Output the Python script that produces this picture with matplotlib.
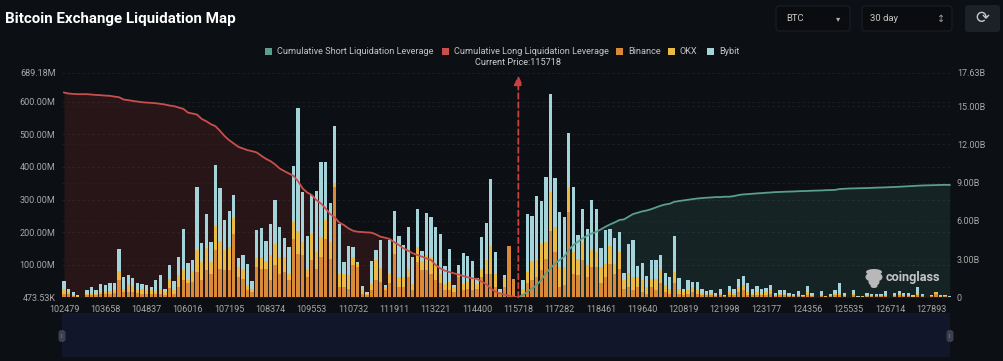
import matplotlib
matplotlib.use("Agg")
import matplotlib.pyplot as plt
from matplotlib.patches import FancyBboxPatch, Rectangle, Ellipse

plt.rcParams['font.family'] = ['Roboto', 'DejaVu Sans']

title = "Bitcoin Exchange Liquidation Map"
current_price = 115718
current_index = 99
tick_labels = ["102479","103658","104837","106016","107195","108374","109553","110732","111911","113221","114400",
               "115718","117282","118461","119640","120819","121998","123177","124356","125535","126714","127893"]
tick_step = 9
left_ticks = [0.47353, 100, 200, 300, 400, 500, 600, 689.18]
left_labels = ["473.53K","100.00M","200.00M","300.00M","400.00M","500.00M","600.00M","689.18M"]
right_ticks = [0, 3, 6, 9, 12, 15, 17.63]
right_labels = ["0","3.00B","6.00B","9.00B","12.00B","15.00B","17.63B"]

binance = [12,10,4,2,.5,7,9,7,12,10,12,15,55,17,17,17,14,12,12,12,10,12,9,30,10,33,53,43,48,78,53,83,73,144,88,83,85,195,63,58,
           22,17,93,88,88,53,99,73,78,53,180,134,129,63,114,88,124,180,119,337,33,33,27,99,94,12,7,22,53,48,22,43,134,33,33,63,22,109,83,83,
           73,53,43,22,22,17,63,22,27,22,27,63,73,73,33,12,33,157,58,0,12,43,53,63,83,119,205,139,33,38,261,73,68,114,63,93,93,43,63,104,
           73,88,27,33,22,33,17,12,33,22,43,17,12,43,12,9,12,17,12,9,6,7,4,6,3,9,7,17,22,9,7,9,7,9,12,4,7,6,4,3,5,3,8,3,1,4,2,3,6,9,4,.5,7,1,2,4,3,3,3,5,.5,4,6,4,4,2,6,3,1,3,10,2,3,1]
okx = [13,7,5,2,.5,5,6,5,5,6,8,9,26,10,20,17,8,15,10,10,7,15,8,27,12,35,32,10,33,66,56,69,36,76,86,61,69,49,30,30,
       15,10,28,36,25,76,66,51,46,20,51,71,41,25,81,51,61,56,51,15,40,40,41,25,8,10,5,20,61,41,10,30,30,30,30,25,20,46,30,46,
       51,46,30,20,25,15,10,20,20,30,15,25,41,86,40,5,30,0,0,0,15,36,59,51,81,51,117,76,61,56,78,66,51,56,36,51,46,51,41,53,
       30,51,25,41,41,30,36,20,25,36,41,20,15,36,15,8,10,15,10,5,6,7,4,6,2,8,7,15,15,8,5,8,5,8,10,3,5,6,3,3,4,2,9,3,.5,5,1,3,6,5,3,.3,5,1,1,3,3,3,3,4,.3,3,5,3,3,2,4,3,.5,2,6,2,2,1]
bybit = [24,8,8,3,1,12,16,10,25,21,24,20,67,35,31,25,22,15,16,9,35,43,10,43,28,56,124,53,33,193,58,103,61,186,160,94,112,70,28,42,
         66,23,86,88,59,97,134,93,59,83,172,376,153,99,119,188,230,178,119,172,152,37,90,31,7,14,5,69,30,88,5,102,102,124,97,127,81,116,30,130,
         124,116,122,53,102,6,25,93,81,61,18,97,114,203,65,10,5,0,0,0,27,177,139,198,130,199,302,152,168,152,164,200,73,102,112,156,132,58,104,53,
         79,61,23,91,112,33,53,33,58,58,46,38,36,109,34,10,31,15,25,11,8,10,5,15,4,17,11,25,29,27,14,18,15,13,15,6,10,10,7,4,12,4,18,9,.5,10,1,5,10,31,8,.2,11,1,1,7,6,5,5,11,.2,7,8,7,7,3,22,6,.5,4,2,2,2,1]

long_cum = [16.06,15.98,15.95,15.93,15.93,15.93,15.90,15.87,15.85,15.82,15.80,15.74,15.69,15.51,15.46,15.40,15.35,15.30,15.27,15.25,
            15.22,15.17,15.12,15.04,14.99,14.88,14.78,14.49,14.41,14.33,13.99,13.81,13.58,13.42,13.05,12.64,12.32,12.06,11.80,11.67,
            11.54,11.46,11.36,11.10,10.86,10.68,10.42,10.10,9.90,9.71,9.53,9.11,8.54,8.22,8.02,7.62,7.36,6.97,6.53,6.27,
            5.85,5.67,5.40,5.22,5.14,5.12,5.09,5.07,4.93,4.75,4.67,4.57,4.31,4.10,3.84,3.66,3.45,3.32,3.19,3.05,
            2.92,2.53,2.27,2.09,1.98,1.88,1.78,1.67,1.57,1.49,1.44,1.23,1.04,0.70,0.44,0.31,0.21,0.13,0.05,0]
short_cum = [0,0.18,0.44,0.70,0.97,1.36,1.88,2.27,2.66,2.92,3.19,3.71,4.10,4.36,4.62,4.83,5.01,5.14,5.33,5.54,5.72,5.87,6.06,6.11,6.32,
             6.53,6.63,6.74,6.81,6.92,7.05,7.18,7.28,7.34,7.49,7.55,7.60,7.65,7.70,7.75,7.78,7.81,7.83,7.86,7.86,7.89,7.89,7.94,8.02,8.07,
             8.09,8.12,8.15,8.17,8.20,8.22,8.25,8.26,8.28,8.29,8.30,8.32,8.33,8.34,8.36,8.37,8.38,8.40,8.41,8.42,8.49,8.51,8.53,8.54,8.55,
             8.56,8.57,8.58,8.60,8.61,8.62,8.64,8.65,8.67,8.69,8.71,8.73,8.75,8.77,8.78,8.79,8.80,8.81,8.82,8.81]

BG = "#0c0f14"
C_SHORT, C_LONG, C_BIN, C_OKX, C_BYB = "#5a9e8c", "#c8504c", "#d98a38", "#e9bb45", "#a5d3da"
TXT = "#a8a8a8"

W, H = 1004, 361
fig = plt.figure(figsize=(W/100, H/100), dpi=100, facecolor=BG)
rect = [61.7/W, 1-297.3/H, (952-61.7)/W, (297.3-72.5)/H]

n = len(binance)
xs = list(range(n))
long_x = xs[:current_index+1]
short_x = xs[current_index:current_index+len(short_cum)]

# back axis: right scale, fills and labels
back = fig.add_axes(rect, facecolor=BG, zorder=1)
back.fill_between(long_x, long_cum, 0, color="#3a1a1c", alpha=.6, lw=0)
back.fill_between(short_x, short_cum, 0, color="#213a38", alpha=.48, lw=0)
back.set_xlim(-.5, n-.5); back.set_ylim(0, 17.63)
back.yaxis.tick_right()
back.set_yticks(right_ticks, right_labels)
back.set_xticks([i*tick_step for i in range(len(tick_labels))], tick_labels)
back.tick_params(length=0, colors=TXT, labelsize=6.5)
back.tick_params(axis='x', pad=5.5); back.tick_params(axis='y', pad=3.5)
back.grid(axis='y', color="#ffffff", alpha=.07, lw=.6, ls=(0, (3, 3)))
back.set_axisbelow(True)
for s in back.spines.values(): s.set_visible(False)

# bars: left scale
ax = fig.add_axes(rect, facecolor="none", zorder=2)
b1 = [a for a in binance]
b2 = [a+b for a, b in zip(binance, okx)]
w = .72
ax.bar(xs, binance, w, color=C_BIN, lw=0)
ax.bar(xs, okx, w, bottom=b1, color=C_OKX, lw=0)
ax.bar(xs, bybit, w, bottom=b2, color=C_BYB, lw=0)
ax.set_xlim(-.5, n-.5); ax.set_ylim(left_ticks[0], left_ticks[-1])
ax.set_yticks(left_ticks, left_labels)
ax.set_xticks([])
ax.tick_params(length=0, colors=TXT, labelsize=6.5, pad=4.5)
ax.grid(axis='y', color="#ffffff", alpha=.07, lw=.6, ls=(0, (3, 3)))
ax.set_axisbelow(True)
for s in ax.spines.values(): s.set_visible(False)

# lines: right scale
top = fig.add_axes(rect, facecolor="none", zorder=3)
top.plot(long_x, long_cum, color=C_LONG, lw=1.3, solid_joinstyle='round')
top.plot(short_x, short_cum, color=C_SHORT, lw=1.3, solid_joinstyle='round')
top.annotate("", xy=(current_index, 17.4), xytext=(current_index, 0),
             arrowprops=dict(arrowstyle='-|>,head_width=.25,head_length=.55', color="#c8403f", lw=1.3, ls=(0, (3, 2)),
                             shrinkA=0, shrinkB=0))
top.set_xlim(-.5, n-.5); top.set_ylim(0, 17.63); top.axis('off')

# page furniture, in pixels
ui = fig.add_axes([0, 0, 1, 1], facecolor="none", zorder=5)
ui.set_xlim(0, W); ui.set_ylim(H, 0); ui.axis('off')
ui.text(5, 19, title, color="white", fontsize=10.9, fontweight='bold', va='center', ha='left')
for x0, x1 in [(776, 850), (862, 952)]:
    ui.add_patch(FancyBboxPatch((x0, 6), x1-x0, 25, boxstyle="round,pad=0,rounding_size=3", fc="#0a0c10", ec="#1b1f26", lw=.8))
ui.add_patch(FancyBboxPatch((965, 5), 35, 27, boxstyle="round,pad=0,rounding_size=3", fc="#1c2128", ec="none"))
ui.text(786, 18.5, "BTC", color="#c8c8c8", fontsize=6.8, va='center')
ui.text(838, 18.5, "\u25be", color="#b0b0b0", fontsize=6, va='center', ha='center', family='DejaVu Sans')
ui.text(870, 18.5, "30 day", color="#c8c8c8", fontsize=6.8, va='center')
ui.text(941, 18.5, "\u2195", color="#9a9a9a", fontsize=7, va='center', ha='center', family='DejaVu Sans')
ui.text(982, 18.5, "\u27f3", color="#c8c8c8", fontsize=12, va='center', ha='center', family='DejaVu Sans')

legend_items = [(265, "Cumulative Short Liquidation Leverage", C_SHORT), (442, "Cumulative Long Liquidation Leverage", C_LONG),
                (616, "Binance", C_BIN), (668, "OKX", C_OKX), (707, "Bybit", C_BYB)]
for x0, lab, col in legend_items:
    ui.add_patch(Rectangle((x0, 47.5), 7.5, 7.5, fc=col, ec="none"))
    ui.text(x0+12, 51.3, lab, color="#c4c4c4", fontsize=6.6, va='center', ha='left')
ui.text(518, 62.5, f"Current Price:{current_price}", color="#d0d0d0", fontsize=6.6, va='center', ha='center')

# data zoom slider
ui.add_patch(Rectangle((62, 313), 888, 44, fc="#11162a", ec="none"))
for x0 in (62, 950):
    ui.add_patch(FancyBboxPatch((x0-3.5, 330), 7, 12, boxstyle="round,pad=0,rounding_size=3", fc="#3a4050", ec="none"))
    ui.text(x0, 336, "II", color="#8a90a0", fontsize=3.5, ha='center', va='center')

# watermark
for cx, cy, rw, rh in [(874, 272, 16, 6), (872, 277, 13, 9), (876, 277, 13, 9), (874, 282, 11, 8), (874, 286, 7, 4)]:
    ui.add_patch(Ellipse((cx, cy), rw, rh, fc="#b8b8b8", ec="none"))
ui.text(886, 278, "coinglass", color="#c4c4c4", fontsize=9.2, fontweight='bold', va='center', ha='left')

fig.savefig("out.png", dpi=100, facecolor=BG)
